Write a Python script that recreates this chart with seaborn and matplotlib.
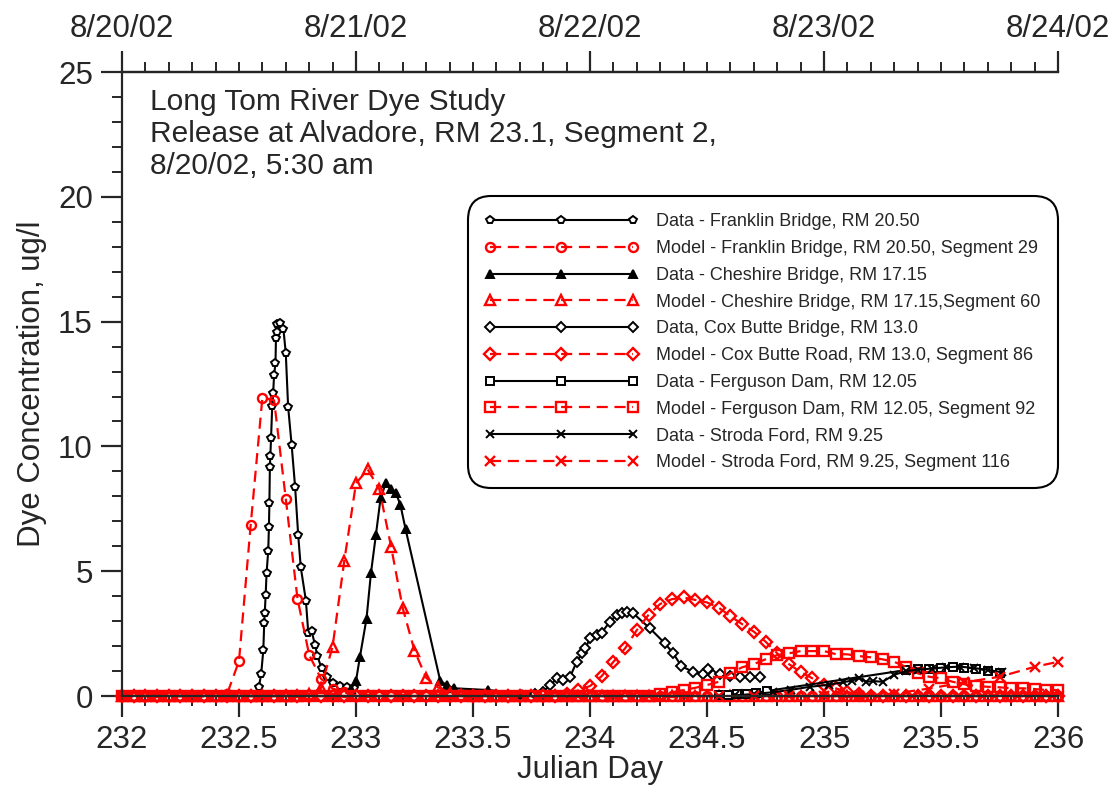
# Long Tom River dye study - data vs model concentrations
import numpy as np
import pandas as pd
import matplotlib
matplotlib.use("Agg")
import matplotlib.pyplot as plt
import seaborn as sns

sns.set_style("ticks")
plt.rcParams['font.family'] = ['Liberation Sans', 'DejaVu Sans']

# ---- observed data (Julian day, ug/l) ----
franklin_day = [232.585, 232.595, 232.604, 232.608, 232.610, 232.614, 232.618, 232.625, 232.628,
                232.630, 232.632, 232.634, 232.637, 232.642, 232.646, 232.650, 232.656, 232.658,
                232.661, 232.664, 232.675, 232.690, 232.700, 232.710, 232.725, 232.740, 232.753,
                232.764, 232.786, 232.796, 232.810, 232.825, 232.835, 232.853, 232.875, 232.903,
                232.930, 232.960, 232.990]
franklin_obs = [0.35, 0.9, 1.84, 2.94, 3.31, 4.05, 4.94, 5.82, 6.78,
                7.74, 9.19, 9.62, 10.32, 11.62, 12.13, 12.86, 13.33, 14.33,
                14.6, 14.9, 14.93, 14.69, 13.73, 11.59, 10.06, 8.36, 6.45,
                5.16, 3.82, 2.54, 2.62, 2.04, 1.6, 1.11, 0.77, 0.53,
                0.4, 0.35, 0.31]

cheshire_day = [232.98, 233.0, 233.017, 233.045, 233.064, 233.085, 233.105, 233.128, 233.148,
                233.17, 233.19, 233.212, 233.36, 233.387, 233.42, 233.565, 233.71]
cheshire_obs = [0.3, 0.6, 1.58, 3.1, 4.93, 6.45, 7.92, 8.55, 8.28,
                8.15, 7.65, 6.68, 0.61, 0.44, 0.31, 0.24, 0.1]

coxbutte_day = [233.765, 233.80, 233.83, 233.86, 233.886, 233.915, 233.943, 233.965, 233.98,
                234.0, 234.028, 234.05, 234.085, 234.114, 234.135, 234.157, 234.185, 234.256,
                234.32, 234.356, 234.39, 234.44, 234.485, 234.505, 234.527, 234.555, 234.60,
                234.64, 234.684, 234.726]
coxbutte_obs = [0.1, 0.18, 0.44, 0.71, 0.64, 0.77, 1.37, 1.71, 1.91,
                2.31, 2.44, 2.54, 2.98, 3.25, 3.34, 3.38, 3.31, 2.71,
                2.11, 1.71, 1.2, 0.97, 0.88, 1.07, 0.84, 0.88, 0.81,
                0.77, 0.77, 0.75]

ferguson_day = [234.55, 234.59, 234.63, 234.67, 234.71, 234.755, 235.35, 235.40, 235.45,
                235.50, 235.55, 235.60, 235.65, 235.70, 235.75]
ferguson_obs = [0.05, 0.06, 0.08, 0.1, 0.13, 0.2, 1.04, 1.08, 1.1,
                1.12, 1.15, 1.14, 1.1, 1.02, 0.92]

stroda_day = [234.62, 234.70, 234.78, 234.86, 234.94, 235.02, 235.08, 235.12, 235.15, 235.18,
              235.21, 235.25, 235.30, 235.35, 235.40, 235.46, 235.52, 235.58, 235.64, 235.70, 235.76]
stroda_obs = [0.03, 0.08, 0.15, 0.25, 0.37, 0.45, 0.55, 0.62, 0.72, 0.57,
              0.6, 0.57, 0.85, 1.0, 1.05, 1.1, 1.15, 1.18, 1.12, 1.05, 0.95]

# ---- model output: 0.05 day step, zero outside the listed pulse ----
model_day = np.round(np.arange(232.0, 236.001, 0.05), 2)

franklin_start, franklin_mod = 232.45, [0.1, 1.4, 6.85, 11.95, 11.85, 7.9, 3.9, 1.65, 0.7, 0.3, 0.15, 0.05]
cheshire_start, cheshire_mod = 232.80, [0.08, 0.32, 1.98, 5.42, 8.52, 9.08, 8.28, 5.98, 3.51, 1.82,
                                        0.73, 0.35, 0.12, 0.05]
coxbutte_start, coxbutte_mod = 233.90, [0.1, 0.24, 0.4, 0.8, 1.37, 1.91, 2.64, 3.25, 3.69, 3.88,
                                        3.95, 3.85, 3.75, 3.54, 3.2, 2.88, 2.58, 2.18, 1.71, 1.28,
                                        0.96, 0.71, 0.44, 0.31, 0.15, 0.08]
ferguson_start, ferguson_mod = 234.30, [0.08, 0.15, 0.24, 0.33, 0.44, 0.57, 0.91, 1.15, 1.28, 1.47,
                                        1.64, 1.71, 1.8, 1.8, 1.8, 1.68, 1.67, 1.6, 1.55, 1.47,
                                        1.37, 1.17, 0.91, 0.77, 0.71, 0.57, 0.47, 0.4, 0.37, 0.35,
                                        0.31, 0.31, 0.28, 0.24, 0.24]

# Stroda Ford model was written out every 0.15 day (last value at the axis end)
stroda_mod_day = np.append(np.round(np.arange(232.0, 235.95, 0.15), 2), 236.0)
stroda_start, stroda_mod = 235.30, [0.1, 0.3, 0.55, 0.77, 1.17, 1.37]


def pulse(days, start, vals):
    out = np.zeros(len(days))
    i = int(np.argmin(np.abs(days - start)))
    out[i:i + len(vals)] = vals
    return out


top_labels = ['8/20/02', '8/21/02', '8/22/02', '8/23/02', '8/24/02']

series = [
    ('Data - Franklin Bridge, RM 20.50', franklin_day, franklin_obs, 'black', '-', 'p', 'white'),
    ('Model - Franklin Bridge, RM 20.50, Segment 29', model_day,
     pulse(model_day, franklin_start, franklin_mod), 'red', '--', 'o', 'none'),
    ('Data - Cheshire Bridge, RM 17.15', cheshire_day, cheshire_obs, 'black', '-', '^', 'black'),
    ('Model - Cheshire Bridge, RM 17.15,Segment 60', model_day,
     pulse(model_day, cheshire_start, cheshire_mod), 'red', '--', '^', 'none'),
    ('Data, Cox Butte Bridge, RM 13.0', coxbutte_day, coxbutte_obs, 'black', '-', 'D', 'white'),
    ('Model - Cox Butte Road, RM 13.0, Segment 86', model_day,
     pulse(model_day, coxbutte_start, coxbutte_mod), 'red', '--', 'D', 'none'),
    ('Data - Ferguson Dam, RM 12.05', ferguson_day, ferguson_obs, 'black', '-', 's', 'white'),
    ('Model - Ferguson Dam, RM 12.05, Segment 92', model_day,
     pulse(model_day, ferguson_start, ferguson_mod), 'red', '--', 's', 'none'),
    ('Data - Stroda Ford, RM 9.25', stroda_day, stroda_obs, 'black', '-', 'x', 'black'),
    ('Model - Stroda Ford, RM 9.25, Segment 116', stroda_mod_day,
     pulse(stroda_mod_day, stroda_start, stroda_mod), 'red', '--', 'x', 'none'),
]

fig = plt.figure(figsize=(11.17, 7.95), dpi=100)
ax = fig.add_axes([0.1092, 0.1245, 0.8380, 0.7849])

handles = []
for label, x, y, col, ls, mk, fc in series:
    df = pd.DataFrame({'day': x, 'conc': y})
    if col == 'red':
        ms, mew, lw = 6.5, 1.7, 1.6
    else:
        ms, mew, lw = (5.5 if mk in ('D', 'p') else 6), 1.4, 1.5
    sns.lineplot(data=df, x='day', y='conc', ax=ax, color=col, linestyle=ls, linewidth=lw,
                 marker=mk, markersize=ms, markerfacecolor=fc, markeredgecolor=col,
                 markeredgewidth=mew, sort=False, estimator=None, label=label)
    ax.lines[-1].set_clip_on(False)
    if ls == '--':
        ax.lines[-1].set_dashes((5, 3))
    handles.append(ax.lines[-1])

ax.set_xlim(232, 236)
ax.set_ylim(0, 25)
ax.set_xticks([232, 232.5, 233, 233.5, 234, 234.5, 235, 235.5, 236])
ax.set_xticklabels(['232', '232.5', '233', '233.5', '234', '234.5', '235', '235.5', '236'])
ax.set_xticks(np.arange(232, 236.01, 0.1), minor=True)
ax.set_yticks([0, 5, 10, 15, 20, 25])
ax.set_yticks(np.arange(0, 25.1, 1), minor=True)
ax.tick_params(axis='both', which='major', labelsize=22.5, length=15, width=1.6, direction='out', pad=6)
ax.tick_params(axis='both', which='minor', length=7, width=1.4, direction='out')
ax.set_xlabel('Julian Day', fontsize=22.5, labelpad=0)
ax.set_ylabel('Dye Concentration, ug/l', fontsize=22.5, labelpad=8)
for s in ['left', 'bottom', 'top']:
    ax.spines[s].set_linewidth(1.6)
ax.spines['right'].set_visible(False)

# calendar date axis along the top
top = ax.twiny()
top.set_xlim(232, 236)
top.set_xticks([232, 233, 234, 235, 236])
top.set_xticklabels(top_labels)
top.set_xticks(np.arange(232, 236.01, 0.1), minor=True)
top.tick_params(axis='x', which='major', labelsize=22.5, length=15, width=1.6, direction='out', pad=5)
top.tick_params(axis='x', which='minor', length=7, width=1.4, direction='out')
for s in ['left', 'right', 'bottom']:
    top.spines[s].set_visible(False)
top.spines['top'].set_linewidth(1.6)

ax.text(0.03, 0.975, 'Long Tom River Dye Study\nRelease at Alvadore, RM 23.1, Segment 2,\n8/20/02, 5:30 am',
        transform=ax.transAxes, fontsize=21.5, va='top', ha='left', linespacing=1.2)

leg = ax.legend(handles=handles, labels=[s[0] for s in series], loc='upper left',
                bbox_to_anchor=(0.373, 0.795), numpoints=3, handlelength=8.5, handletextpad=1.0,
                fontsize=13, labelspacing=0.54, borderpad=0.75, borderaxespad=0,
                fancybox=True, framealpha=1)
frame = leg.get_frame()
frame.set_edgecolor('black')
frame.set_linewidth(1.5)
frame.set_boxstyle('round,pad=0.2,rounding_size=1.3')

fig.savefig('out.png', dpi=100)
